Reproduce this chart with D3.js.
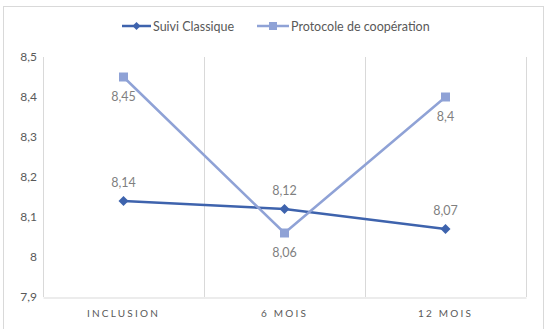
<!DOCTYPE html>
<html><head><meta charset="utf-8">
<script src="https://cdn.jsdelivr.net/npm/d3@7"></script>
<style>body{margin:0;background:#fff;}svg{display:block;font-family:Lato,"Open Sans",sans-serif;}</style>
</head><body>
<svg id="c" width="546" height="329"></svg>
<script>
const categories = ["INCLUSION", "6 MOIS", "12 MOIS"];
const seriesNames = ["Suivi Classique", "Protocole de coopération"];
const suiviClassique = [8.14, 8.12, 8.07];
const protocole = [8.45, 8.06, 8.4];
const yTicks = [7.9, 8, 8.1, 8.2, 8.3, 8.4, 8.5];

const svg = d3.select("#c");
const colors = ["#3E63AD", "#8FA2D6"];
const fmt = v => String(v).replace(".", ",");

svg.append("rect").attr("x", 3.5).attr("y", 6.5).attr("width", 540).attr("height", 330)
  .attr("fill", "#fff").attr("stroke", "#d9d9d9");

const L = 43, R = 526, T = 57, B = 297;
const x = d3.scaleBand().domain(categories).range([L, R]);
const y = d3.scaleLinear().domain([7.9, 8.5]).range([B, T]);

// vertical gridlines at category boundaries
const bounds = categories.map(c => x(c)).concat([R]);
svg.append("g").selectAll("line").data(bounds).join("line")
  .attr("x1", d => d + 0.5).attr("x2", d => d + 0.5).attr("y1", T).attr("y2", B)
  .attr("stroke", "#d9d9d9").attr("stroke-width", 1);

// bottom axis
const xAxis = svg.append("g").attr("transform", `translate(0,${B + 0.5})`)
  .call(d3.axisBottom(x).tickSize(0).tickPadding(12));
xAxis.select(".domain").attr("stroke", "#d9d9d9");
xAxis.selectAll("text").attr("font-size", 10).attr("fill", "#595959")
  .attr("letter-spacing", "2.2px").attr("font-family", "Lato, sans-serif");

// left axis labels
const yAxis = svg.append("g").attr("transform", `translate(${L},0)`)
  .call(d3.axisLeft(y).tickValues(yTicks).tickSize(0).tickPadding(6).tickFormat(fmt));
yAxis.select(".domain").remove();
yAxis.selectAll("text").attr("font-size", 12).attr("fill", "#595959").attr("font-family", "Lato, sans-serif");

const cx = c => x(c) + x.bandwidth() / 2;
const line = d3.line().x((d, i) => cx(categories[i])).y(d => y(d));

const diamond = r => `M0,${-r}L${r},0L0,${r}L${-r},0Z`;
const square = r => `M${-r},${-r}H${r}V${r}H${-r}Z`;

const allSeries = [suiviClassique, protocole];
allSeries.forEach((vals, si) => {
  svg.append("path").datum(vals).attr("d", line).attr("fill", "none")
    .attr("stroke", colors[si]).attr("stroke-width", 2.5);
  const shape = si === 0 ? diamond(5) : square(4.5);
  svg.append("g").selectAll("path").data(vals).join("path")
    .attr("d", shape)
    .attr("transform", (d, i) => `translate(${cx(categories[i])},${y(d)})`)
    .attr("fill", colors[si]);
  svg.append("g").selectAll("text").data(vals).join("text")
    .attr("x", (d, i) => cx(categories[i]))
    .attr("y", d => si === 0 ? y(d) - 14 : y(d) + 24)
    .attr("text-anchor", "middle").attr("font-size", 12.5).attr("fill", "#7f7f7f")
    .text(fmt);
});

// legend
const leg = [{x: 122, tx: 153}, {x: 257, tx: 291}];
seriesNames.forEach((n, si) => {
  const g = svg.append("g");
  const ly = 26;
  const lw = leg[si].tx - leg[si].x - 2;
  g.append("line").attr("x1", leg[si].x).attr("x2", leg[si].x + lw).attr("y1", ly).attr("y2", ly)
    .attr("stroke", colors[si]).attr("stroke-width", 2.5);
  g.append("path").attr("d", si === 0 ? diamond(4) : square(4))
    .attr("transform", `translate(${leg[si].x + lw / 2},${ly})`).attr("fill", colors[si]);
  g.append("text").attr("x", leg[si].tx).attr("y", ly + 4.5).attr("font-size", 12.5).attr("fill", "#595959").text(n);
});
</script>
</body></html>
